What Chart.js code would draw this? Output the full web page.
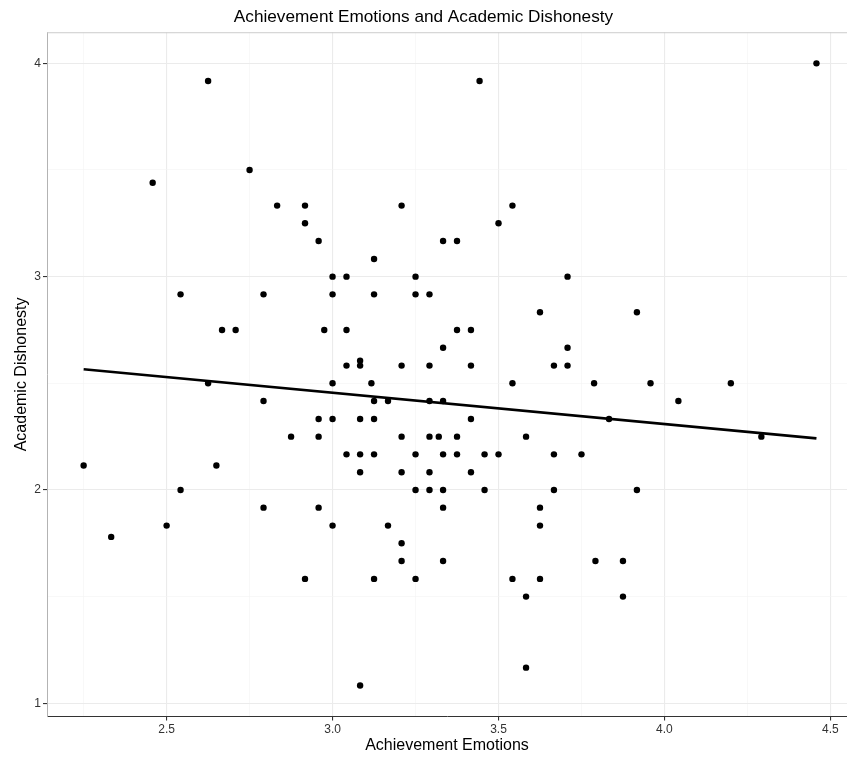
<!DOCTYPE html>
<html>
<head>
<meta charset="utf-8">
<script src="https://cdn.jsdelivr.net/npm/chart.js@4"></script>
<style>
  html, body { margin: 0; padding: 0; background: #fff; }
  canvas { display: block; }
</style>
</head>
<body>
<canvas id="grafico" width="847" height="757"></canvas>
<script>
// values (x = emotions, y = dishonesty)
const emotions = [
  2.625, 2.458, 2.75, 2.833, 2.917, 2.917, 2.958, 3.208, 3.333, 3.125,
  3.443, 3.542, 3.5, 3.375, 4.458, 2.542, 2.667, 2.708, 2.625, 2.25,
  2.65, 2.542, 3.0, 3.042, 3.25, 2.792, 3.0, 3.125, 3.25, 3.292,
  2.975, 3.042, 3.333, 3.083, 3.042, 3.083, 3.208, 3.292, 3.0, 3.117,
  2.792, 3.125, 3.167, 3.292, 3.333, 2.958, 3.0, 3.083, 3.125, 2.875,
  2.958, 3.208, 3.292, 3.32, 3.042, 3.083, 3.125, 3.25, 3.333, 3.083,
  3.208, 3.292, 3.25, 3.292, 3.333, 3.708, 3.625, 3.917, 3.375, 3.417,
  3.708, 3.417, 3.667, 3.708, 3.542, 3.788, 3.833, 3.417, 3.375, 3.583,
  3.375, 3.458, 3.5, 3.667, 3.75, 3.417, 3.458, 3.667, 3.917, 3.958,
  4.2, 4.042, 4.292, 2.5, 2.333, 2.792, 2.958, 3.333, 3.0, 3.167,
  3.208, 3.208, 3.333, 2.917, 3.125, 3.25, 3.083, 3.625, 3.625, 3.792,
  3.875, 3.542, 3.625, 3.583, 3.875, 3.583
];
const dishonesty = [
  3.917, 3.44, 3.5, 3.333, 3.333, 3.25, 3.167, 3.333, 3.167, 3.083,
  3.917, 3.333, 3.25, 3.167, 4.0, 2.917, 2.75, 2.75, 2.5, 2.115,
  2.115, 2.0, 3.0, 3.0, 3.0, 2.917, 2.917, 2.917, 2.917, 2.917,
  2.75, 2.75, 2.667, 2.606, 2.583, 2.583, 2.583, 2.583, 2.5, 2.5,
  2.417, 2.417, 2.417, 2.417, 2.417, 2.333, 2.333, 2.333, 2.333, 2.25,
  2.25, 2.25, 2.25, 2.25, 2.167, 2.167, 2.167, 2.167, 2.167, 2.083,
  2.083, 2.083, 2.0, 2.0, 2.0, 3.0, 2.833, 2.833, 2.75, 2.75,
  2.667, 2.583, 2.583, 2.583, 2.5, 2.5, 2.333, 2.333, 2.25, 2.25,
  2.167, 2.167, 2.167, 2.167, 2.167, 2.083, 2.0, 2.0, 2.0, 2.5,
  2.5, 2.417, 2.25, 1.833, 1.78, 1.917, 1.917, 1.917, 1.833, 1.833,
  1.75, 1.667, 1.667, 1.583, 1.583, 1.583, 1.083, 1.917, 1.833, 1.667,
  1.667, 1.583, 1.583, 1.5, 1.5, 1.167
];

// fitted line (lm) endpoints
const fitX = [2.25, 4.458];
const fitY = [2.566, 2.242];

// grid positions and labels (empty label = minor grid line)
const xTicks = [2.25, 2.5, 2.75, 3.0, 3.25, 3.5, 3.75, 4.0, 4.25, 4.5];
const xLabels = ['', '2.5', '', '3.0', '', '3.5', '', '4.0', '', '4.5'];
const yTicks = [1, 1.5, 2, 2.5, 3, 3.5, 4];
const yLabels = ['1', '', '2', '', '3', '', '4'];

const FONT = "'Liberation Sans', Arial, sans-serif";
const MAJOR = '#ebebeb';
const MINOR = '#f4f4f4';

const pontos = emotions.map((x, i) => ({ x: x, y: dishonesty[i] }));
const linha = fitX.map((x, i) => ({ x: x, y: fitY[i] }));

// light frame line on top of the panel
const moldura = {
  id: 'moldura',
  beforeDatasetsDraw(chart) {
    const { ctx, chartArea: a } = chart;
    ctx.save();
    ctx.strokeStyle = '#cccccc';
    ctx.lineWidth = 1;
    ctx.beginPath();
    ctx.moveTo(a.left, a.top + 0.5);
    ctx.lineTo(a.right, a.top + 0.5);
    ctx.stroke();
    ctx.restore();
  }
};

function gridColor(labels) {
  return c => (c.tick && labels[c.index] !== '') ? MAJOR : MINOR;
}
function tickColor(labels) {
  return c => (labels[c.index] !== '') ? '#333333' : 'rgba(0,0,0,0)';
}
// keep the panel edge-to-edge, no extra room for labels
function noPad(s) {
  s.paddingLeft = 0; s.paddingRight = 0;
  s.paddingTop = 0; s.paddingBottom = 0;
}

const ctx = document.getElementById('grafico').getContext('2d');
new Chart(ctx, {
  type: 'scatter',
  data: {
    datasets: [
      {
        type: 'line',
        data: linha,
        borderColor: '#000',
        borderWidth: 2.6,
        pointRadius: 0,
        fill: false,
        order: 0
      },
      {
        data: pontos,
        backgroundColor: '#000',
        borderColor: '#000',
        borderWidth: 0,
        pointRadius: 3.2,
        order: 1
      }
    ]
  },
  options: {
    responsive: false,
    animation: false,
    layout: { padding: 0, autoPadding: false },
    plugins: {
      legend: { display: false },
      tooltip: { enabled: false },
      title: {
        display: true,
        text: 'Achievement Emotions and Academic Dishonesty',
        color: '#000',
        font: { family: FONT, size: 17.2, weight: 'normal', lineHeight: 1.2 },
        padding: { top: 7, bottom: 4.6 }
      }
    },
    scales: {
      x: {
        type: 'linear',
        min: 2.1396,
        max: 4.55,
        afterBuildTicks: s => { s.ticks = xTicks.map(v => ({ value: v })); },
        afterFit: s => { s.height = 40.4; noPad(s); },
        ticks: {
          autoSkip: false,
          maxRotation: 0,
          padding: 2,
          color: '#333333',
          font: { family: FONT, size: 12 },
          callback: (v, i) => xLabels[i]
        },
        grid: {
          color: gridColor(xLabels),
          lineWidth: c => (xLabels[c.index] !== '' ? 1.1 : 0.6),
          tickColor: tickColor(xLabels),
          tickLength: 4
        },
        border: { color: '#333333', width: 1 },
        title: {
          display: true,
          text: 'Achievement Emotions',
          color: '#000',
          font: { family: FONT, size: 16, lineHeight: 1.2 },
          padding: { top: 0, bottom: 1.4 }
        }
      },
      y: {
        type: 'linear',
        min: 0.9375,
        max: 4.1458,
        afterBuildTicks: s => { s.ticks = yTicks.map(v => ({ value: v })); },
        afterFit: s => { s.width = 47; noPad(s); },
        ticks: {
          autoSkip: false,
          padding: 2,
          color: '#333333',
          font: { family: FONT, size: 12 },
          callback: (v, i) => yLabels[i]
        },
        grid: {
          color: gridColor(yLabels),
          lineWidth: c => (yLabels[c.index] !== '' ? 1.1 : 0.6),
          tickColor: tickColor(yLabels),
          tickLength: 4
        },
        border: { color: '#b3b3b3', width: 1 },
        title: {
          display: true,
          text: 'Academic Dishonesty',
          color: '#000',
          font: { family: FONT, size: 16, lineHeight: 1.2 },
          padding: { top: 11.5, bottom: 0 }
        }
      }
    }
  },
  plugins: [moldura]
});
</script>
</body>
</html>
